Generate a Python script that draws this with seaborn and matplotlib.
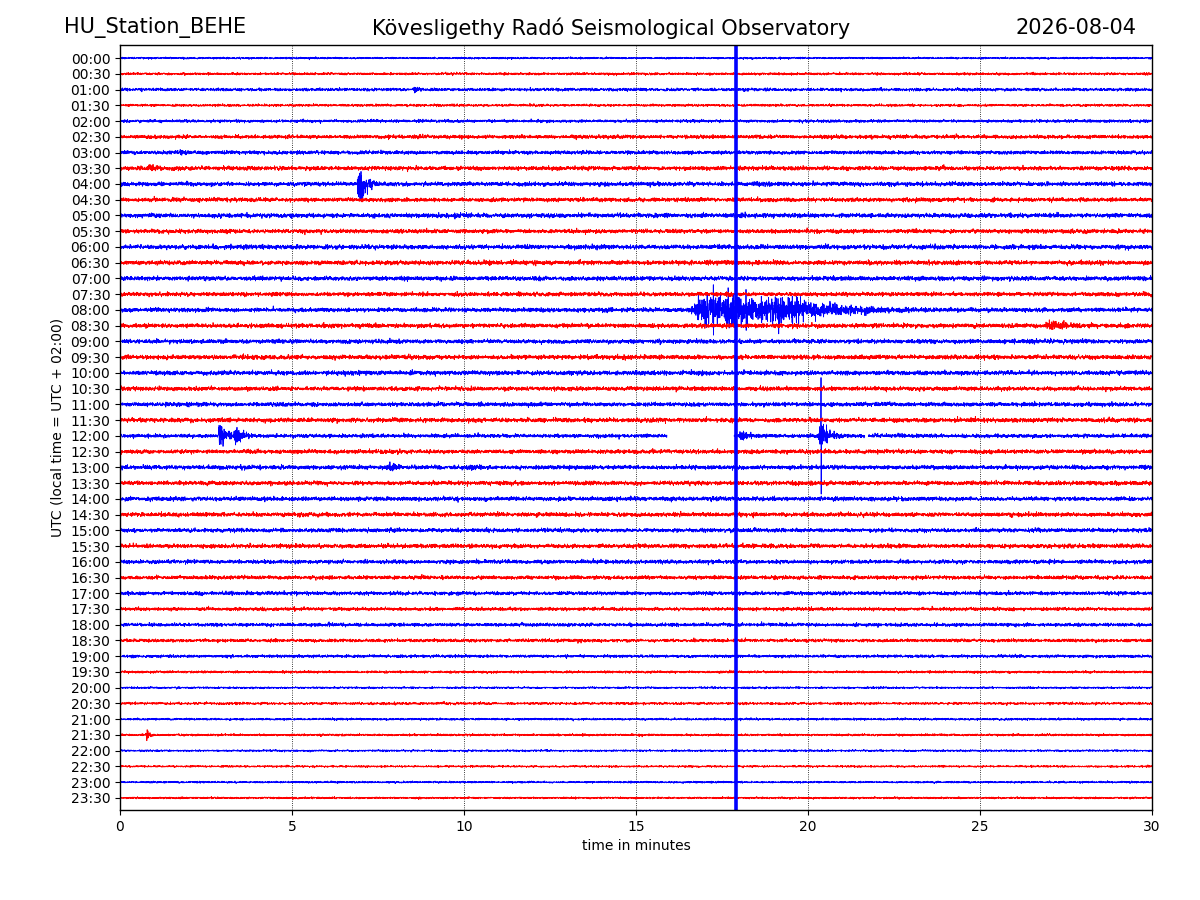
"""
Helicorder-style day plot (seismogram traces, 30-minute rows)
"""

import numpy as np
import pandas as pd
import seaborn as sns
import matplotlib.pyplot as plt

# =========================
# Data
# =========================
STATION = "HU_Station_BEHE"
OBSERVATORY = "Kövesligethy Radó Seismological Observatory"
DAY = "2026-08-04"

ROW_LABELS = [f"{h:02d}:{m:02d}" for h in range(24) for m in (0, 30)]

# peak noise excursion of every row, in units of row spacing
NOISE_AMP = [
    0.08, 0.10, 0.12, 0.10, 0.12, 0.15, 0.15, 0.17,
    0.17, 0.17, 0.18, 0.17, 0.18, 0.18, 0.18, 0.17,
    0.17, 0.18, 0.17, 0.18, 0.18, 0.17, 0.17, 0.18,
    0.15, 0.17, 0.17, 0.17, 0.17, 0.17, 0.16, 0.17,
    0.16, 0.15, 0.15, 0.14, 0.14, 0.13, 0.12, 0.10,
    0.08, 0.10, 0.09, 0.09, 0.08, 0.08, 0.08, 0.08,
]

# events: row index, onset (min), peak excursion (rows), rise (min), decay (min)
EVENT_ROW = [7, 8, 16, 16, 16, 24, 24, 24, 24, 26, 26, 17, 43, 2, 6]
EVENT_T0 = [0.8, 6.88, 16.55, 17.5, 18.7, 2.85, 3.3, 18.0, 20.3, 7.7, 10.0, 26.8, 0.75, 8.5, 1.7]
EVENT_AMP = [0.30, 1.25, 1.15, 1.05, 1.00, 1.05, 0.60, 0.45, 0.90, 0.35, 0.25, 0.30, 0.40, 0.22, 0.22]
EVENT_RISE = [0.05, 0.06, 0.4, 0.2, 0.3, 0.04, 0.05, 0.05, 0.05, 0.1, 0.1, 0.3, 0.03, 0.05, 0.05]
EVENT_DECAY = [0.2, 0.25, 1.4, 1.3, 1.6, 0.2, 0.25, 0.25, 0.3, 0.3, 0.3, 0.6, 0.1, 0.2, 0.2]

# single-sample spikes: row, time (min), height (rows)
SPIKE_ROW = [24, 16, 16]
SPIKE_T = [20.38, 17.25, 18.2]
SPIKE_AMP = [3.7, 1.6, 1.3]

# data gaps: row, start (min), end (min)
GAP_ROW = [24, 24]
GAP_START = [15.9, 21.65]
GAP_END = [17.85, 21.75]

# clipped trace crossing all rows
CLIP_T = 17.9

N_SAMPLES = 6000

# =========================
# Build the traces
# =========================
t = np.linspace(0, 30, N_SAMPLES)
rng = np.random.default_rng(4)  # only for wiggle texture
frames = []
for i, lab in enumerate(ROW_LABELS):
    sig = rng.standard_normal(N_SAMPLES) * NOISE_AMP[i] / 3.0
    for r, t0, a, rise, dec in zip(EVENT_ROW, EVENT_T0, EVENT_AMP, EVENT_RISE, EVENT_DECAY):
        if r != i:
            continue
        env = np.where(t < t0, 0.0,
                       np.where(t < t0 + rise, (t - t0) / rise,
                                np.exp(-(t - t0 - rise) / dec)))
        sig = sig + rng.standard_normal(N_SAMPLES) * env * a / 2.0
    for r, ts, a in zip(SPIKE_ROW, SPIKE_T, SPIKE_AMP):
        if r == i:
            k = np.argmin(np.abs(t - ts))
            sig[k] = a
            sig[k + 1] = -a
    seg = np.zeros(N_SAMPLES, dtype=int)
    keep = np.ones(N_SAMPLES, dtype=bool)
    for r, g0, g1 in zip(GAP_ROW, GAP_START, GAP_END):
        if r == i:
            keep &= ~((t >= g0) & (t <= g1))
            seg += (t > g1).astype(int)
    frames.append(pd.DataFrame({
        "minute": t[keep],
        "y": -i + sig[keep],
        "unit": [f"{i}_{s}" for s in seg[keep]],
        "colour": "blue" if i % 2 == 0 else "red",
    }))
df = pd.concat(frames, ignore_index=True)

# =========================
# Plot
# =========================
sns.set_style("white")
plt.rcParams["font.family"] = ["DejaVu Sans"]
plt.rcParams.update({
    "text.color": "black", "axes.labelcolor": "black",
    "xtick.color": "black", "ytick.color": "black",
})

fig = plt.figure(figsize=(12, 9), dpi=100)
ax = fig.add_axes([0.1, 0.1, 0.86, 0.85])

sns.lineplot(
    data=df, x="minute", y="y", hue="colour", units="unit",
    estimator=None, sort=False, palette={"blue": "blue", "red": "red"},
    linewidth=0.6, legend=False, ax=ax,
)
ax.axvline(CLIP_T, color="blue", linewidth=2.6)

ax.set_xlim(0, 30)
ax.set_ylim(-len(ROW_LABELS) + 1 - 0.77, 0.83)
ax.set_yticks([-i for i in range(len(ROW_LABELS))])
ax.set_yticklabels(ROW_LABELS)
ax.set_xticks([0, 5, 10, 15, 20, 25, 30])
ax.xaxis.grid(True, linestyle=":", color="black", linewidth=0.6)
ax.yaxis.grid(False)
for s in ax.spines.values():
    s.set_color("black")
    s.set_linewidth(1.0)
ax.tick_params(axis="both", which="both", left=True, bottom=True,
               length=3.5, width=0.8, labelsize=10, colors="black")
ax.set_xlabel("time in minutes", fontsize=10, color="black")
ax.set_ylabel("UTC (local time = UTC + 02:00)", fontsize=10, color="black")

fig.text(0.053, 0.969, STATION, fontsize=15, ha="left", va="center", color="black")
fig.text(0.509, 0.969, OBSERVATORY, fontsize=15, ha="center", va="center", color="black")
fig.text(0.947, 0.969, DAY, fontsize=15, ha="right", va="center", color="black")

fig.savefig("out.png", dpi=100)
